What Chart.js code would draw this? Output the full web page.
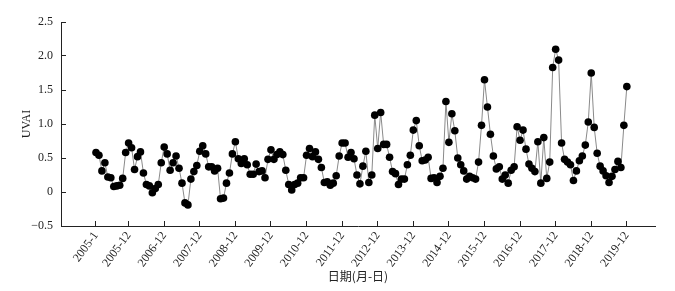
<!DOCTYPE html>
<html>
<head>
<meta charset="utf-8">
<script src="https://cdn.jsdelivr.net/npm/chart.js@4"></script>
<style>
  html, body { margin: 0; padding: 0; background: #fff; }
  #wrap { width: 675px; height: 291px; }
</style>
</head>
<body>
<div id="wrap"><canvas id="uvai-chart" width="675" height="291"></canvas></div>
<script>
// monthly UVAI, 2005-1 .. 2019-12
const uvai = [
  0.58, 0.54, 0.31, 0.43, 0.22, 0.21, 0.08, 0.09, 0.10, 0.20, 0.58, 0.72,
  0.65, 0.33, 0.52, 0.59, 0.28, 0.11, 0.09, -0.01, 0.05, 0.11, 0.43, 0.66,
  0.56, 0.32, 0.43, 0.53, 0.35, 0.13, -0.16, -0.19, 0.19, 0.30, 0.39, 0.60,
  0.68, 0.56, 0.37, 0.37, 0.31, 0.35, -0.10, -0.09, 0.13, 0.28, 0.56, 0.74,
  0.49, 0.42, 0.49, 0.40, 0.26, 0.26, 0.41, 0.30, 0.31, 0.21, 0.48, 0.62,
  0.48, 0.55, 0.59, 0.55, 0.32, 0.11, 0.03, 0.11, 0.13, 0.21, 0.21, 0.54,
  0.64, 0.52, 0.59, 0.48, 0.36, 0.14, 0.15, 0.10, 0.13, 0.24, 0.53, 0.72,
  0.72, 0.51, 0.58, 0.49, 0.25, 0.12, 0.38, 0.60, 0.14, 0.25, 1.13, 0.64,
  1.17, 0.70, 0.70, 0.51, 0.30, 0.27, 0.11, 0.19, 0.19, 0.40, 0.54, 0.91,
  1.05, 0.68, 0.46, 0.47, 0.51, 0.20, 0.21, 0.14, 0.23, 0.35, 1.33, 0.73,
  1.15, 0.90, 0.50, 0.40, 0.31, 0.19, 0.23, 0.21, 0.19, 0.44, 0.98, 1.65,
  1.25, 0.85, 0.53, 0.34, 0.37, 0.19, 0.25, 0.13, 0.32, 0.37, 0.96, 0.76,
  0.91, 0.63, 0.41, 0.35, 0.30, 0.74, 0.13, 0.80, 0.20, 0.44, 1.83, 2.10,
  1.94, 0.72, 0.48, 0.44, 0.40, 0.17, 0.31, 0.46, 0.53, 0.69, 1.03, 1.75,
  0.95, 0.57, 0.38, 0.31, 0.24, 0.14, 0.23, 0.33, 0.45, 0.36, 0.98, 1.55
];

// x tick positions (month index) and their labels
const tickIdx = [0, 11, 23, 35, 47, 59, 71, 83, 95, 107, 119, 131, 143, 155, 167, 179];
const tickLabels = [
  '2005-1', '2005-12', '2006-12', '2007-12', '2008-12', '2009-12', '2010-12', '2011-12',
  '2012-12', '2013-12', '2014-12', '2015-12', '2016-12', '2017-12', '2018-12', '2019-12'
];

const yTicks = [-0.5, 0, 0.5, 1.0, 1.5, 2.0, 2.5];

const serif = '"Liberation Serif", "Times New Roman", "Noto Sans CJK SC", serif';
const axisColor = '#222';

const points = uvai.map((v, i) => ({ x: i, y: v }));

const ctx = document.getElementById('uvai-chart').getContext('2d');
const chart = new Chart(ctx, {
  type: 'line',
  data: {
    datasets: [{
      label: 'UVAI',
      data: points,
      borderColor: '#8a8a8a',
      borderWidth: 1,
      pointRadius: 3.8,
      pointBackgroundColor: '#000',
      pointBorderColor: '#000',
      pointBorderWidth: 0,
      tension: 0,
      fill: false,
    }],
  },
  options: {
    responsive: false,
    animation: false,
    layout: { padding: { left: 0, right: 20, top: 22, bottom: 0 } },
    plugins: { legend: { display: false }, tooltip: { enabled: false } },
    scales: {
      x: {
        type: 'linear',
        min: -11.8,
        max: 188.5,
        afterBuildTicks: (scale) => { scale.ticks = tickIdx.map((v) => ({ value: v })); },
        afterFit: (scale) => { scale.height = 65; },
        grid: { display: true, drawOnChartArea: false, drawTicks: true, tickLength: -5, color: axisColor },
        border: { display: true, color: axisColor, width: 1 },
        ticks: {
          autoSkip: false,
          minRotation: 54,
          maxRotation: 54,
          padding: 8,
          color: '#222',
          font: { family: serif, size: 12 },
          callback: (v) => tickLabels[tickIdx.indexOf(v)],
        },
        title: {
          display: true,
          text: '日期(月-日)',
          color: '#222',
          font: { family: '"Noto Sans CJK SC", sans-serif', size: 12 },
          padding: { top: 0, bottom: 7 },
        },
      },
      y: {
        min: -0.5,
        max: 2.5,
        afterBuildTicks: (scale) => { scale.ticks = yTicks.map((v) => ({ value: v })); },
        afterFit: (scale) => { scale.width = 61; },
        grid: { display: true, drawOnChartArea: false, drawTicks: true, tickLength: -5, color: axisColor },
        border: { display: true, color: axisColor, width: 1 },
        ticks: {
          padding: 13,
          color: '#222',
          font: { family: serif, size: 12 },
          callback: (v) => (v === 0 ? '0' : v < 0 ? '\u2212' + Math.abs(v).toFixed(1) : v.toFixed(1)),
        },
        title: {
          display: true,
          text: 'UVAI',
          color: '#222',
          font: { family: serif, size: 12 },
          padding: { top: 20, bottom: 0 },
        },
      },
    },
  },
});
</script>
</body>
</html>
